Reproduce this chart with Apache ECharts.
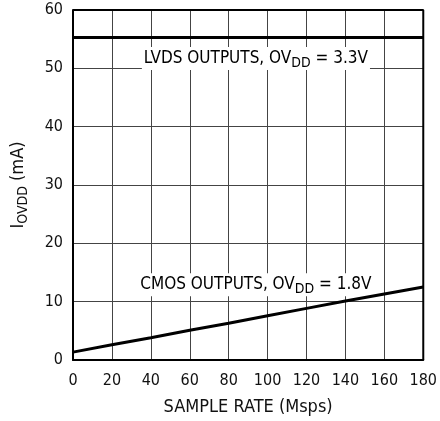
<!DOCTYPE html>
<html>
<head>
<meta charset="utf-8">
<script src="https://cdn.jsdelivr.net/npm/echarts@6/dist/echarts.min.js"></script>
<style>
  html, body { margin: 0; padding: 0; background: #fff; }
  #chart { width: 440px; height: 421px; }
</style>
</head>
<body>
<div id="chart"></div>
<script>
const sampleRate = [0, 20, 40, 60, 80, 100, 120, 140, 160, 180];
const lvdsCurrent = [55.3, 55.3, 55.3, 55.3, 55.3, 55.3, 55.3, 55.3, 55.3, 55.3];
const cmosCurrent = [1.35, 2.6, 3.8, 5.1, 6.3, 7.6, 8.85, 10.1, 11.3, 12.5];

// label anchors in data coordinates
const lvdsLabelAt = [94, 51.7];
const cmosLabelAt = [94, 12.9];

const FONT = '"Liberation Sans Narrow", "DejaVu Sans Condensed", sans-serif';

const chart = echarts.init(document.getElementById('chart'));

const labelRich = {
  t: { fontSize: 17, color: '#111', fontFamily: FONT },
  s: { fontSize: 14, color: '#111', fontFamily: FONT, padding: [9, 0, 0, 0] }
};
const nameRich = {
  t: { fontSize: 18, color: '#111', fontFamily: FONT },
  s: { fontSize: 14, color: '#111', fontFamily: FONT, padding: [10, 0, 0, 0] }
};

chart.setOption({
  animation: false,
  grid: { left: 73, right: 16, top: 10, bottom: 59 },
  xAxis: {
    type: 'value',
    min: 0, max: 180, interval: 20,
    name: 'SAMPLE RATE (Msps)',
    nameLocation: 'middle',
    nameGap: 38,
    nameTextStyle: { fontSize: 18, color: '#111', fontFamily: FONT },
    axisLine: { show: true, lineStyle: { color: '#000', width: 2 } },
    axisTick: { show: false },
    axisLabel: { fontSize: 16, color: '#111', fontFamily: FONT, margin: 13 },
    splitLine: { show: true, lineStyle: { color: '#444', width: 1 } }
  },
  yAxis: {
    type: 'value',
    min: 0, max: 60, interval: 10,
    name: '{t|I}{s|OVDD}{t| (mA)}',
    nameLocation: 'middle',
    nameGap: 43,
    nameRotate: 90,
    nameTextStyle: { rich: nameRich },
    axisLine: { show: true, lineStyle: { color: '#000', width: 2 } },
    axisTick: { show: false },
    axisLabel: { fontSize: 16, color: '#111', fontFamily: FONT, margin: 10 },
    splitLine: { show: true, lineStyle: { color: '#444', width: 1 } }
  },
  series: [
    {
      name: 'LVDS',
      type: 'line',
      symbol: 'none',
      data: sampleRate.map((x, i) => [x, lvdsCurrent[i]]),
      lineStyle: { color: '#000', width: 3 },
      z: 5
    },
    {
      name: 'CMOS',
      type: 'line',
      symbol: 'none',
      data: sampleRate.map((x, i) => [x, cmosCurrent[i]]),
      lineStyle: { color: '#000', width: 3 },
      z: 5
    },
    {
      // top and right frame
      type: 'line',
      symbol: 'none',
      silent: true,
      data: [[0, 60], [180, 60], [180, 0]],
      lineStyle: { color: '#000', width: 2 },
      z: 4
    }
  ]
});

function placeLabels() {
  const a = chart.convertToPixel({ gridIndex: 0 }, lvdsLabelAt);
  const b = chart.convertToPixel({ gridIndex: 0 }, cmosLabelAt);
  const mk = (p, text) => ({
    type: 'text',
    x: p[0], y: p[1],
    z: 3,
    style: {
      text: text,
      align: 'center',
      verticalAlign: 'middle',
      backgroundColor: '#fff',
      padding: [0, 2],
      rich: labelRich
    }
  });
  chart.setOption({
    graphic: [
      mk(a, '{t|LVDS OUTPUTS, OV}{s|DD}{t| = 3.3V}'),
      mk(b, '{t|CMOS OUTPUTS, OV}{s|DD}{t| = 1.8V}')
    ]
  });
}
placeLabels();
</script>
</body>
</html>
